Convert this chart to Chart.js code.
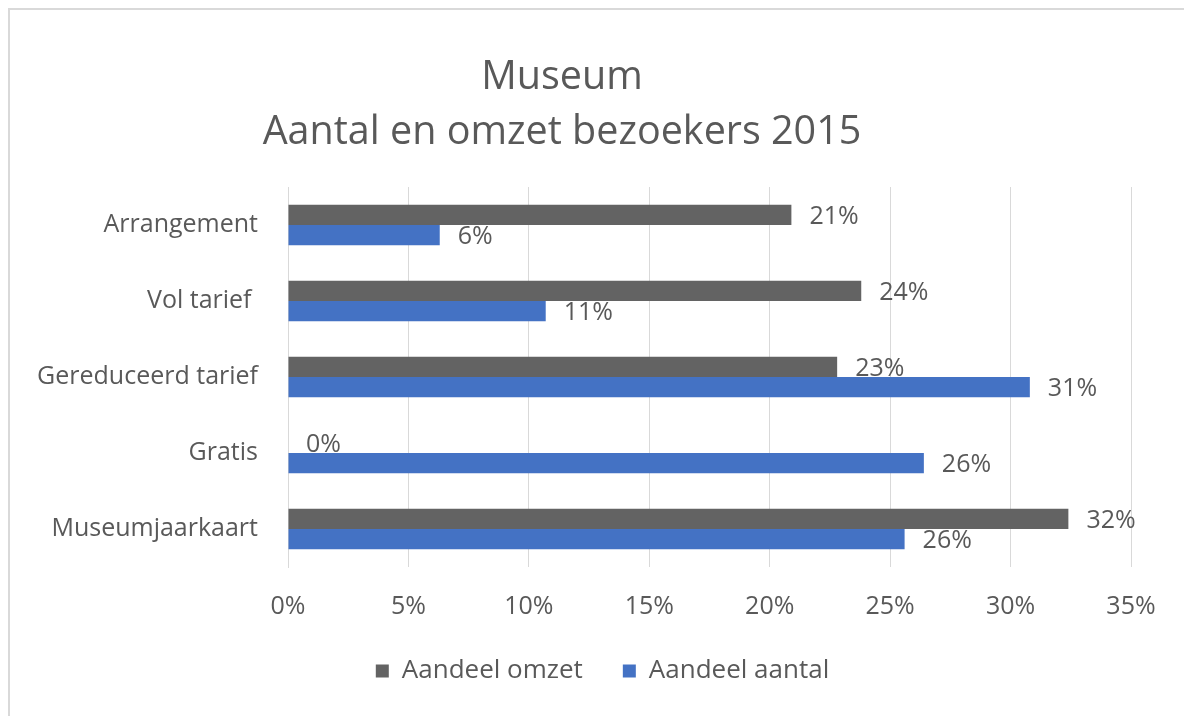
<!DOCTYPE html>
<html>
<head>
<meta charset="utf-8">
<script src="https://cdn.jsdelivr.net/npm/chart.js@4"></script>
<style>
  html, body { margin: 0; padding: 0; background: #fff; }
  #wrap { width: 1184px; height: 716px; }
</style>
</head>
<body>
<div id="wrap"><canvas id="museumChart" width="1184" height="716"></canvas></div>
<script>
const categories = ["Arrangement", "Vol tarief ", "Gereduceerd tarief", "Gratis", "Museumjaarkaart"];
const aandeelOmzet = [20.9, 23.8, 22.8, 0, 32.4];
const aandeelAantal = [6.3, 10.7, 30.8, 26.4, 25.6];
const titleLines = ["Museum", "Aantal en omzet bezoekers 2015"];

const FONT = "'Open Sans', Lato, sans-serif";
const TEXT = "#595959";

// frame + title, drawn by hand so the title can sit off-centre like the original
const framePlugin = {
  id: "frame",
  beforeDraw(chart) {
    const c = chart.ctx;
    c.save();
    c.fillStyle = "#fff";
    c.fillRect(0, 0, chart.width, chart.height);
    c.strokeStyle = "#d9d9d9";
    c.lineWidth = 2;
    c.beginPath();
    c.moveTo(9, chart.height);
    c.lineTo(9, 9);
    c.lineTo(chart.width, 9);
    c.stroke();
    c.fillStyle = TEXT;
    c.font = "39.5px " + FONT;
    c.textAlign = "center";
    c.textBaseline = "middle";
    c.fillText(titleLines[0], 562, 78);
    c.fillText(titleLines[1], 562, 133);
    c.restore();
  },
  // legend in the original sits a bit right of the canvas centre
  afterLayout(chart) {
    chart.legend.left += 18;
    chart.legend.right += 18;
  },
};

const labelPlugin = {
  id: "barLabels",
  afterDatasetsDraw(chart) {
    const c = chart.ctx;
    c.save();
    c.font = "25px " + FONT;
    c.fillStyle = TEXT;
    c.textAlign = "left";
    c.textBaseline = "middle";
    chart.data.datasets.forEach((ds, i) => {
      chart.getDatasetMeta(i).data.forEach((bar, j) => {
        c.fillText(Math.round(ds.data[j]) + "%", bar.x + 18, bar.y + 2);
      });
    });
    c.restore();
  },
};

const ctx = document.getElementById("museumChart").getContext("2d");
new Chart(ctx, {
  type: "bar",
  data: {
    labels: categories,
    datasets: [
      {
        label: "Aandeel omzet",
        data: aandeelOmzet,
        backgroundColor: "#636363",
      },
      {
        label: "Aandeel aantal",
        data: aandeelAantal,
        backgroundColor: "#4472c4",
      },
    ],
  },
  options: {
    indexAxis: "y",
    responsive: false,
    animation: false,
    barPercentage: 1,
    categoryPercentage: 0.53,
    layout: {
      padding: { top: 187, left: 38, right: 53, bottom: 22 },
    },
    scales: {
      x: {
        min: 0,
        max: 35,
        ticks: {
          stepSize: 5,
          padding: 25,
          color: TEXT,
          font: { family: FONT, size: 25 },
          callback: (v) => v + "%",
        },
        grid: { color: "#d9d9d9", drawTicks: false },
        border: { display: false },
        afterFit(scale) {
          scale.height = 51;
        },
      },
      y: {
        ticks: {
          padding: 30,
          color: TEXT,
          font: { family: FONT, size: 25 },
        },
        grid: { display: false, drawTicks: false },
        border: { display: true, color: "#d9d9d9" },
        afterFit(scale) {
          scale.width = 250;
        },
      },
    },
    plugins: {
      legend: {
        position: "bottom",
        labels: {
          boxWidth: 13,
          boxHeight: 13,
          padding: 40,
          color: TEXT,
          font: { family: FONT, size: 26 },
        },
      },
      tooltip: { enabled: false },
      title: { display: false },
    },
  },
  plugins: [framePlugin, labelPlugin],
});
</script>
</body>
</html>
